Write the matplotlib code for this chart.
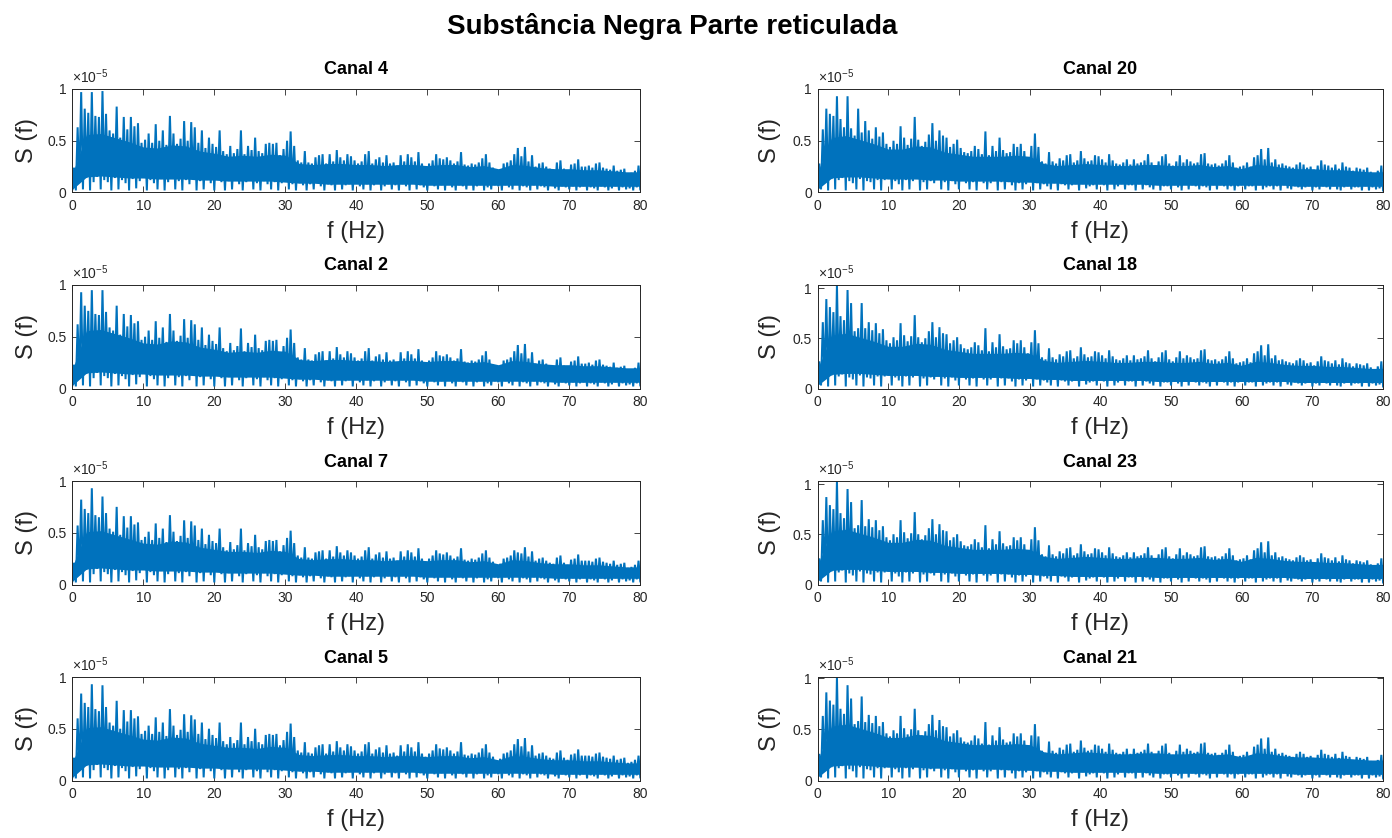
import numpy as np
import matplotlib
matplotlib.use("Agg")
import matplotlib.pyplot as plt

plt.rcParams['font.family'] = ['Liberation Sans', 'DejaVu Sans']
plt.rcParams['mathtext.fontset'] = 'custom'
plt.rcParams['mathtext.rm'] = 'Liberation Sans'
plt.rcParams['mathtext.it'] = 'Liberation Sans:italic'

FIG_TITLE = "Substância Negra Parte reticulada"
X_LABEL = "f (Hz)"
Y_LABEL = "S (f)"
X_TICKS = [0, 10, 20, 30, 40, 50, 60, 70, 80]
Y_TICKS = [0, 0.5, 1]
Y_TICK_LABELS = ["0", "0.5", "1"]
SCALE_NOTE = r"$\times10^{-5}$"

# Spectral peaks in each 0.5 Hz band, 0-80 Hz (units of 1e-7)
peaks_c4 = [24, 63, 97, 81, 77, 97, 74, 73, 98, 76,
            60, 57, 83, 53, 73, 61, 73, 64, 67, 48,
            51, 57, 48, 66, 50, 60, 46, 74, 57, 47,
            52, 69, 50, 68, 63, 48, 60, 43, 53, 47,
            44, 60, 40, 37, 45, 38, 42, 60, 37, 45,
            41, 53, 40, 38, 47, 48, 47, 48, 36, 42,
            50, 59, 45, 31, 29, 40, 29, 28, 34, 36,
            37, 28, 37, 30, 41, 34, 31, 37, 35, 31,
            28, 30, 37, 40, 28, 32, 34, 29, 36, 28,
            29, 26, 36, 30, 37, 34, 30, 39, 28, 24,
            28, 31, 37, 33, 32, 34, 31, 28, 30, 39,
            27, 26, 28, 27, 29, 33, 37, 29, 24, 20,
            22, 28, 29, 31, 37, 43, 35, 44, 30, 36,
            25, 28, 29, 25, 23, 22, 29, 31, 23, 21,
            27, 28, 32, 25, 25, 26, 24, 28, 29, 24,
            23, 22, 26, 21, 22, 23, 18, 19, 21, 26]

peaks_c2 = [23, 62, 93, 80, 75, 95, 72, 71, 95, 74,
            59, 56, 80, 52, 72, 60, 71, 63, 65, 47,
            50, 56, 47, 65, 49, 59, 45, 72, 56, 46,
            51, 67, 49, 66, 62, 47, 59, 42, 52, 46,
            43, 59, 39, 36, 44, 37, 41, 58, 36, 44,
            40, 52, 39, 37, 46, 47, 46, 47, 35, 41,
            49, 57, 44, 30, 28, 39, 28, 27, 33, 35,
            36, 27, 36, 29, 40, 33, 30, 36, 34, 30,
            27, 29, 36, 39, 27, 31, 33, 28, 35, 27,
            28, 25, 35, 29, 36, 33, 29, 38, 27, 23,
            27, 30, 36, 32, 31, 33, 30, 27, 29, 38,
            26, 25, 27, 26, 28, 32, 36, 28, 23, 19,
            21, 27, 28, 30, 36, 42, 34, 43, 29, 35,
            24, 27, 28, 24, 22, 21, 28, 30, 22, 20,
            26, 27, 31, 24, 24, 25, 23, 27, 28, 23,
            22, 21, 25, 20, 21, 22, 17, 18, 20, 25]

peaks_c7 = [21, 57, 82, 73, 69, 93, 67, 65, 85, 69,
            54, 51, 75, 48, 66, 55, 66, 58, 60, 43,
            46, 51, 43, 59, 45, 54, 41, 67, 51, 42,
            47, 62, 45, 61, 57, 43, 54, 39, 48, 42,
            40, 54, 36, 33, 41, 34, 38, 54, 33, 40,
            37, 48, 36, 34, 42, 43, 42, 43, 32, 38,
            45, 52, 40, 28, 26, 36, 26, 25, 31, 32,
            33, 25, 33, 27, 37, 31, 28, 33, 31, 28,
            25, 27, 33, 36, 25, 29, 31, 26, 32, 25,
            26, 23, 32, 27, 33, 31, 27, 35, 25, 22,
            25, 28, 33, 30, 29, 31, 28, 25, 27, 35,
            24, 23, 25, 24, 26, 30, 33, 26, 22, 18,
            20, 25, 26, 28, 33, 31, 30, 36, 27, 32,
            23, 25, 26, 23, 21, 20, 26, 28, 21, 19,
            24, 25, 29, 23, 23, 23, 22, 25, 26, 22,
            21, 20, 23, 19, 20, 21, 16, 17, 19, 23]

peaks_c5 = [22, 60, 84, 75, 71, 93, 69, 67, 92, 71,
            56, 53, 77, 50, 68, 57, 68, 60, 62, 45,
            48, 53, 45, 61, 47, 56, 43, 69, 53, 44,
            49, 64, 47, 63, 59, 45, 56, 40, 50, 44,
            41, 56, 38, 35, 42, 36, 39, 56, 35, 42,
            38, 50, 37, 35, 44, 45, 44, 45, 34, 39,
            47, 55, 42, 29, 27, 37, 27, 26, 32, 34,
            35, 26, 35, 28, 38, 32, 29, 35, 33, 29,
            26, 28, 35, 37, 26, 30, 32, 27, 34, 26,
            27, 24, 34, 28, 35, 32, 28, 37, 26, 23,
            26, 29, 35, 31, 30, 32, 29, 26, 28, 37,
            25, 24, 26, 25, 27, 31, 35, 27, 23, 19,
            21, 26, 27, 29, 35, 40, 33, 41, 28, 34,
            24, 26, 27, 24, 22, 21, 27, 29, 22, 20,
            25, 26, 30, 24, 24, 24, 23, 26, 27, 23,
            22, 21, 24, 20, 21, 22, 17, 18, 20, 24]

peaks_c20 = [28, 61, 81, 76, 74, 93, 71, 63, 93, 62,
             55, 81, 58, 69, 60, 52, 63, 54, 58, 47,
             44, 50, 47, 64, 53, 46, 52, 73, 51, 45,
             49, 56, 67, 50, 60, 55, 53, 44, 47, 51,
             43, 39, 38, 40, 45, 42, 37, 59, 36, 45,
             40, 53, 41, 38, 39, 47, 44, 47, 40, 34,
             45, 57, 44, 30, 28, 39, 30, 28, 33, 31,
             36, 37, 29, 31, 40, 33, 30, 31, 36, 35,
             32, 29, 37, 31, 28, 27, 29, 32, 27, 32,
             28, 29, 31, 37, 29, 26, 30, 35, 37, 28,
             26, 30, 36, 29, 32, 30, 28, 29, 37, 38,
             28, 27, 28, 26, 28, 31, 36, 29, 24, 25,
             26, 29, 25, 34, 36, 42, 32, 43, 29, 32,
             27, 28, 26, 25, 24, 27, 29, 27, 24, 25,
             22, 26, 31, 27, 26, 24, 27, 23, 29, 25,
             24, 21, 24, 23, 22, 24, 20, 18, 21, 26]

peaks_c18 = [27, 66, 89, 81, 76, 103, 72, 68, 98, 85,
             57, 60, 85, 60, 66, 58, 65, 55, 59, 48,
             45, 51, 48, 65, 53, 47, 52, 73, 51, 46,
             50, 57, 66, 51, 61, 55, 54, 45, 48, 51,
             44, 40, 39, 41, 46, 43, 38, 60, 37, 46,
             41, 54, 42, 39, 40, 48, 45, 48, 41, 35,
             46, 58, 45, 31, 29, 40, 31, 29, 34, 32,
             37, 38, 30, 32, 41, 34, 31, 32, 37, 36,
             33, 30, 38, 32, 29, 28, 30, 33, 28, 33,
             29, 30, 32, 38, 30, 27, 31, 36, 38, 29,
             27, 31, 37, 30, 33, 31, 29, 30, 38, 39,
             29, 28, 29, 27, 29, 32, 37, 30, 25, 26,
             27, 30, 26, 35, 37, 43, 33, 44, 30, 33,
             28, 29, 27, 26, 25, 28, 30, 28, 25, 26,
             23, 27, 32, 28, 27, 25, 28, 24, 30, 26,
             25, 22, 25, 24, 23, 25, 21, 19, 22, 27]

peaks_c23 = [26, 64, 87, 79, 75, 103, 71, 66, 95, 82,
             56, 59, 84, 58, 65, 57, 64, 54, 58, 47,
             44, 50, 47, 64, 52, 46, 51, 72, 50, 45,
             49, 56, 65, 50, 60, 54, 53, 44, 47, 50,
             43, 39, 38, 40, 45, 42, 37, 59, 36, 45,
             40, 53, 41, 38, 39, 47, 44, 47, 40, 34,
             45, 57, 44, 30, 28, 39, 30, 28, 33, 31,
             36, 37, 29, 31, 40, 33, 30, 31, 36, 35,
             32, 29, 37, 31, 28, 27, 29, 32, 27, 32,
             28, 29, 31, 37, 29, 26, 30, 35, 37, 28,
             26, 30, 36, 29, 32, 30, 28, 29, 37, 38,
             28, 27, 28, 26, 28, 31, 36, 29, 24, 25,
             26, 29, 25, 34, 36, 42, 32, 43, 29, 32,
             27, 28, 26, 25, 24, 27, 29, 27, 24, 25,
             22, 26, 31, 27, 26, 24, 27, 23, 29, 25,
             24, 21, 24, 23, 22, 24, 20, 18, 21, 26]

peaks_c21 = [26, 63, 86, 78, 74, 101, 70, 65, 93, 80,
             55, 58, 82, 57, 64, 56, 63, 53, 57, 46,
             43, 49, 46, 63, 51, 45, 50, 70, 49, 44,
             48, 55, 64, 49, 59, 53, 52, 43, 46, 49,
             42, 38, 37, 39, 44, 41, 36, 57, 35, 44,
             39, 52, 40, 37, 38, 46, 43, 46, 39, 33,
             44, 55, 43, 29, 27, 38, 29, 27, 32, 30,
             35, 36, 28, 30, 39, 32, 29, 30, 35, 34,
             31, 28, 36, 30, 27, 26, 28, 31, 26, 31,
             27, 28, 30, 36, 28, 25, 29, 34, 36, 27,
             25, 29, 35, 28, 31, 29, 27, 28, 36, 37,
             27, 26, 27, 25, 27, 30, 35, 28, 23, 24,
             25, 28, 24, 33, 35, 41, 31, 42, 28, 31,
             26, 27, 25, 24, 23, 26, 28, 26, 23, 24,
             21, 25, 30, 26, 25, 23, 26, 22, 28, 24,
             23, 20, 23, 22, 21, 23, 19, 17, 20, 25]

# Spectral minima at the 0.5 Hz band edges, 0-80 Hz (units of 1e-7)
troughs_left = [3, 2, 12, 3, 14, 2, 10, 15, 3, 12,
                10, 2, 14, 3, 12, 9, 2, 13, 4, 11,
                14, 2, 12, 9, 3, 13, 2, 10, 14, 3,
                11, 2, 12, 8, 14, 2, 11, 3, 12, 9,
                2, 13, 10, 2, 11, 3, 12, 8, 2, 10,
                12, 3, 9, 2, 11, 8, 3, 10, 2, 9,
                11, 3, 8, 2, 9, 7, 2, 8, 3, 9,
                6, 2, 8, 7, 2, 9, 3, 7, 8, 2,
                9, 6, 3, 8, 2, 7, 9, 2, 6, 8,
                3, 7, 2, 8, 6, 2, 9, 3, 7, 5,
                2, 8, 6, 3, 7, 2, 8, 5, 2, 7,
                6, 3, 8, 2, 6, 7, 2, 5, 3, 7,
                6, 2, 7, 5, 3, 8, 2, 6, 5, 2,
                7, 3, 6, 5, 2, 7, 4, 2, 6, 5,
                3, 6, 2, 5, 6, 2, 5, 4, 2, 6,
                5, 2, 4, 6, 2, 5, 3, 4, 2, 5,
                3]

troughs_right = [2, 3, 11, 2, 13, 3, 12, 14, 2, 11,
                 9, 3, 13, 2, 11, 10, 3, 12, 2, 12,
                 13, 3, 11, 8, 2, 12, 3, 11, 13, 2,
                 10, 3, 11, 9, 13, 3, 10, 2, 11, 8,
                 3, 12, 9, 3, 10, 2, 11, 9, 3, 9,
                 11, 2, 10, 3, 10, 7, 2, 9, 3, 8,
                 10, 2, 9, 3, 8, 6, 3, 9, 2, 8,
                 7, 3, 7, 8, 2, 8, 4, 6, 7, 3,
                 8, 7, 2, 9, 3, 6, 8, 3, 7, 7,
                 2, 8, 3, 7, 5, 3, 8, 2, 6, 6,
                 3, 7, 5, 2, 8, 3, 7, 6, 3, 6,
                 5, 2, 7, 3, 7, 6, 3, 6, 2, 6,
                 7, 3, 6, 6, 2, 7, 3, 5, 6, 3,
                 6, 2, 7, 4, 3, 6, 5, 3, 5, 6,
                 2, 5, 3, 6, 5, 3, 6, 3, 2, 5,
                 6, 3, 5, 5, 2, 6, 2, 5, 3, 4,
                 2]

# Dense core of the spectrum, upper and lower edge every 2 Hz (units of 1e-7)
core_top_upper_left = [18, 56, 57, 53, 49, 44, 43, 46, 45, 40,
                       38, 35, 36, 35, 37, 36, 28, 27, 28, 28,
                       27, 27, 26, 27, 27, 26, 27, 27, 25, 26,
                       23, 27, 26, 24, 23, 23, 22, 22, 21, 20,
                       20]
core_top_lower_left = [17, 51, 52, 48, 44, 40, 39, 42, 41, 36,
                       34, 32, 32, 31, 33, 32, 25, 24, 25, 25,
                       24, 24, 23, 24, 24, 23, 24, 24, 22, 23,
                       20, 24, 23, 21, 20, 20, 19, 19, 18, 17,
                       17]
core_bottom_left = [3, 15, 16, 15, 14, 14, 13, 13, 13, 12,
                    12, 11, 11, 11, 11, 10, 9, 9, 8, 8,
                    8, 8, 8, 8, 8, 7, 7, 7, 7, 7,
                    7, 7, 7, 7, 6, 6, 6, 6, 6, 6,
                    6]
core_top_right = [19, 53, 55, 51, 47, 42, 42, 45, 44, 39,
                  37, 35, 35, 35, 36, 35, 28, 26, 27, 28,
                  27, 26, 26, 27, 27, 26, 26, 27, 25, 26,
                  23, 27, 26, 24, 23, 23, 22, 22, 21, 20,
                  20]
core_bottom_right = [3, 14, 15, 15, 14, 13, 13, 13, 12, 12,
                     11, 11, 11, 11, 10, 10, 9, 9, 8, 8,
                     8, 8, 8, 8, 7, 7, 7, 7, 7, 7,
                     7, 7, 7, 7, 6, 6, 6, 6, 6, 6,
                     6]

left_titles = ["Canal 4", "Canal 2", "Canal 7", "Canal 5"]
right_titles = ["Canal 20", "Canal 18", "Canal 23", "Canal 21"]
left_peaks = [peaks_c4, peaks_c2, peaks_c7, peaks_c5]
right_peaks = [peaks_c20, peaks_c18, peaks_c23, peaks_c21]
left_core_tops = [core_top_upper_left, core_top_upper_left,
                  core_top_lower_left, core_top_lower_left]
right_core_tops = [core_top_right] * 4

LINE_COLOR = "#0072BD"
AXIS_COLOR = "#262626"

W, H = 1392, 838
fig = plt.figure(figsize=(W / 100, H / 100), dpi=100)

fig.text(672 / W, 1 - 27 / H, FIG_TITLE, ha="center", va="center",
         fontsize=20, fontweight="bold", color="black")

col_geom = [(72.3, 568.0, -0.079), (817.5, 565.6, -0.084)]
row_bottoms = [192.5, 388.5, 584.5, 780.5]
ax_h = 103.5


def spectrum_line(peaks, troughs):
    """Interleave band-edge minima and in-band maxima into one trace."""
    n = len(peaks)
    x = np.arange(2 * n + 1) * 0.25
    y = np.empty(2 * n + 1)
    y[0::2] = np.asarray(troughs, float) / 100.0
    y[1::2] = np.asarray(peaks, float) / 100.0
    return x, y


columns = [(left_titles, left_peaks, troughs_left, left_core_tops, core_bottom_left),
           (right_titles, right_peaks, troughs_right, right_core_tops, core_bottom_right)]

for col, (titles, peaks_list, troughs, ctops, cbot) in enumerate(columns):
    x0, wpx, ylab_x = col_geom[col]
    core_f = np.arange(len(cbot)) * 2.0
    for row in range(4):
        b = row_bottoms[row]
        ax = fig.add_axes([x0 / W, 1 - b / H, wpx / W, ax_h / H])
        fx, sy = spectrum_line(peaks_list[row], troughs)
        ax.fill_between(core_f, np.asarray(cbot) / 100.0,
                        np.asarray(ctops[row]) / 100.0,
                        color=LINE_COLOR, linewidth=0)
        ax.plot(fx, sy, color=LINE_COLOR, linewidth=1.45, solid_joinstyle="miter")
        ax.set_xlim(0, 80)
        ax.set_ylim(0, max(1.0, sy.max()))
        ax.set_xticks(X_TICKS)
        ax.set_yticks(Y_TICKS)
        ax.set_yticklabels(Y_TICK_LABELS)
        ax.tick_params(direction="in", length=4, width=0.6, color=AXIS_COLOR,
                       labelcolor=AXIS_COLOR, labelsize=10, top=True, right=True)
        ax.tick_params(axis="x", pad=5)
        ax.tick_params(axis="y", pad=4)
        for s in ax.spines.values():
            s.set_color(AXIS_COLOR)
            s.set_linewidth(0.7)
        ax.text(0.5, 1 + 19 / ax_h, titles[row], transform=ax.transAxes,
                ha="center", va="center", fontsize=13, fontweight="bold",
                color="black")
        ax.text(0.5, -39.5 / ax_h, X_LABEL, transform=ax.transAxes,
                ha="center", va="center", fontsize=17, color=AXIS_COLOR)
        ax.text(ylab_x, 0.5, Y_LABEL, transform=ax.transAxes, rotation=90,
                ha="center", va="center", fontsize=17, color=AXIS_COLOR)
        ax.text(0.0, 1 + 3 / ax_h, SCALE_NOTE, transform=ax.transAxes,
                ha="left", va="bottom", fontsize=10, color=AXIS_COLOR)

fig.savefig("out.png", dpi=100)
